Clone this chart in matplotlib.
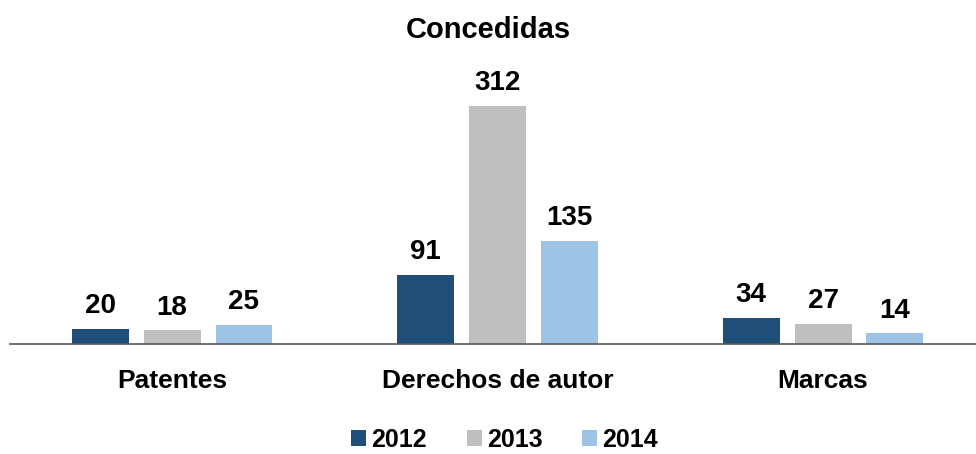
import matplotlib.pyplot as plt
import numpy as np

categories = ["Patentes", "Derechos de autor", "Marcas"]
years = ["2012", "2013", "2014"]
v2012 = [20, 91, 34]
v2013 = [18, 312, 27]
v2014 = [25, 135, 14]
colors = ["#1F4E79", "#BFBFBF", "#9DC3E6"]

plt.rcParams['font.family'] = ['Liberation Sans', 'DejaVu Sans']

fig = plt.figure(figsize=(9.76, 4.54), dpi=100)
ax = fig.add_axes([0.0102, 0.242, 0.9898, 0.582])

x = np.arange(len(categories))
w = 0.175
gap = 0.221
for i, (vals, yr) in enumerate(zip([v2012, v2013, v2014], years)):
    bars = ax.bar(x + (i - 1) * gap, vals, w, color=colors[i], label=yr)
    for b, v in zip(bars, vals):
        ax.annotate(str(v), (b.get_x() + b.get_width() / 2, v),
                    xytext=(0, 7), textcoords="offset points",
                    ha="center", va="bottom", fontsize=20, fontweight="bold")

ax.set_xlim(-0.498, 2.47)
ax.set_ylim(0, 346)
ax.set_xticks(x)
ax.set_xticklabels(categories, fontsize=19, fontweight="bold")
ax.tick_params(axis="x", length=0, pad=18)
ax.set_yticks([])
for s in ["top", "right", "left"]:
    ax.spines[s].set_visible(False)
ax.spines["bottom"].set_color("#595959")
ax.spines["bottom"].set_linewidth(1.2)

fig.suptitle("Concedidas", y=0.965, fontsize=21, fontweight="bold")
fig.legend(loc="lower center", bbox_to_anchor=(0.517, -0.04), ncol=3, frameon=False,
           prop={"size": 18, "weight": "bold"}, handlelength=0.6, handleheight=0.6,
           handletextpad=0.2, columnspacing=1.6, borderpad=0.3)

fig.savefig("out.png", dpi=100)
